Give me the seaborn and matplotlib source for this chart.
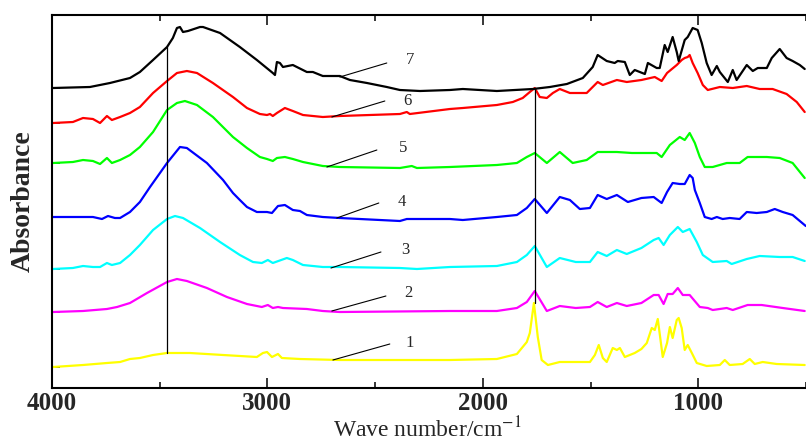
"""Stacked FTIR spectra (samples 1-7) with offset baselines and leader-line labels."""

import matplotlib

matplotlib.use("Agg")
import matplotlib.pyplot as plt  # noqa: E402
import seaborn as sns  # noqa: E402

# ---- data (wavenumber in cm^-1, absorbance in a.u., offset stack) ----
WN_7 = [3995, 3824, 3731, 3638, 3592, 3531, 3466, 3439, 3420, 3406, 3392, 3369, 3313, 3299, 3220,
        3128, 3049, 2975, 2965, 2956, 2942, 2928, 2882, 2817, 2789, 2743, 2664, 2617, 2538, 2446,
        2385, 2292, 2153, 2093, 1935, 1768, 1689, 1610, 1536, 1490, 1467, 1425, 1388, 1374, 1341,
        1318, 1295, 1248, 1234, 1193, 1179, 1156, 1142, 1119, 1100, 1091, 1063, 1049, 1026, 1003,
        984, 961, 938, 914, 900, 863, 840, 822, 775, 747, 724, 682, 659, 622, 590, 562, 529, 506]
ABS_7 = [3.00, 3.01, 3.05, 3.10, 3.16, 3.28, 3.41, 3.50, 3.60, 3.61, 3.56, 3.57, 3.61, 3.61, 3.55,
         3.41, 3.28, 3.15, 3.13, 3.26, 3.25, 3.21, 3.23, 3.16, 3.16, 3.12, 3.12, 3.08, 3.05, 3.01,
         2.98, 2.97, 2.98, 2.99, 2.97, 2.99, 3.01, 3.04, 3.10, 3.21, 3.33, 3.27, 3.25, 3.27, 3.26,
         3.13, 3.18, 3.14, 3.25, 3.20, 3.20, 3.43, 3.36, 3.51, 3.36, 3.27, 3.48, 3.51, 3.60, 3.58,
         3.45, 3.25, 3.13, 3.22, 3.16, 3.06, 3.18, 3.08, 3.23, 3.17, 3.20, 3.20, 3.30, 3.39, 3.30,
         3.27, 3.23, 3.19]

WN_6 = [3995, 3903, 3856, 3810, 3777, 3745, 3722, 3684, 3638, 3592, 3531, 3466, 3420, 3374, 3327,
        3253, 3160, 3095, 3035, 3002, 2988, 2975, 2956, 2919, 2882, 2835, 2743, 2664, 2385, 2353,
        2339, 2153, 2093, 1935, 1861, 1815, 1782, 1759, 1736, 1703, 1675, 1643, 1596, 1518, 1467,
        1443, 1378, 1332, 1264, 1202, 1170, 1145, 1100, 1077, 1063, 1049, 1040, 1026, 1003, 979,
        956, 900, 840, 775, 715, 655, 590, 543, 506]
ABS_6 = [2.65, 2.66, 2.70, 2.69, 2.65, 2.72, 2.68, 2.71, 2.75, 2.81, 2.95, 3.07, 3.15, 3.17, 3.15,
         3.05, 2.91, 2.80, 2.74, 2.73, 2.74, 2.72, 2.75, 2.80, 2.77, 2.73, 2.71, 2.72, 2.74, 2.76,
         2.74, 2.79, 2.80, 2.83, 2.86, 2.90, 2.96, 3.00, 2.91, 2.90, 2.95, 2.99, 2.95, 2.95, 3.06,
         3.03, 3.08, 3.06, 3.08, 3.11, 3.07, 3.15, 3.23, 3.28, 3.30, 3.31, 3.33, 3.25, 3.15, 3.03,
         2.98, 3.01, 3.00, 3.02, 2.99, 2.99, 2.94, 2.86, 2.76]

WN_5 = [3995, 3903, 3856, 3810, 3777, 3745, 3722, 3684, 3638, 3592, 3531, 3466, 3420, 3383, 3327,
        3253, 3160, 3095, 3035, 3002, 2975, 2956, 2919, 2882, 2835, 2743, 2664, 2385, 2330, 2306,
        2153, 1935, 1842, 1796, 1759, 1703, 1643, 1583, 1518, 1467, 1378, 1308, 1193, 1170, 1132,
        1086, 1063, 1040, 1016, 993, 970, 933, 868, 808, 771, 682, 622, 562, 506]
ABS_5 = [2.25, 2.26, 2.28, 2.27, 2.24, 2.30, 2.25, 2.28, 2.33, 2.41, 2.56, 2.78, 2.85, 2.87, 2.83,
         2.71, 2.51, 2.40, 2.31, 2.29, 2.27, 2.30, 2.31, 2.29, 2.26, 2.22, 2.21, 2.20, 2.22, 2.20,
         2.21, 2.23, 2.25, 2.31, 2.35, 2.25, 2.36, 2.25, 2.28, 2.36, 2.36, 2.35, 2.35, 2.31, 2.43,
         2.51, 2.48, 2.55, 2.45, 2.31, 2.21, 2.21, 2.25, 2.25, 2.31, 2.31, 2.30, 2.25, 2.10]

WN_4 = [3995, 3903, 3810, 3768, 3740, 3708, 3684, 3638, 3592, 3545, 3466, 3406, 3374, 3281, 3206,
        3160, 3128, 3095, 3049, 3002, 2979, 2951, 2919, 2882, 2849, 2817, 2743, 2664, 2385, 2353,
        2153, 2093, 1935, 1842, 1796, 1759, 1703, 1643, 1596, 1550, 1503, 1467, 1425, 1378, 1327,
        1264, 1207, 1170, 1145, 1119, 1086, 1063, 1040, 1026, 1016, 993, 970, 938, 914, 887,
        854, 808, 775, 729, 682, 645, 608, 562, 501]
ABS_4 = [1.71, 1.71, 1.71, 1.69, 1.72, 1.70, 1.70, 1.76, 1.86, 2.01, 2.25, 2.41, 2.40, 2.25, 2.08,
         1.95, 1.88, 1.81, 1.76, 1.76, 1.75, 1.82, 1.83, 1.78, 1.77, 1.73, 1.71, 1.70, 1.67, 1.69,
         1.69, 1.68, 1.71, 1.73, 1.80, 1.89, 1.75, 1.91, 1.88, 1.79, 1.80, 1.93, 1.89, 1.93, 1.86,
         1.90, 1.91, 1.85, 1.96, 2.05, 2.04, 2.04, 2.13, 2.10, 1.98, 1.85, 1.71, 1.69, 1.71, 1.69,
         1.70, 1.69, 1.76, 1.75, 1.76, 1.79, 1.76, 1.73, 1.62]

WN_3 = [3995, 3903, 3856, 3810, 3777, 3745, 3722, 3684, 3638, 3592, 3531, 3466, 3429, 3392, 3313,
        3220, 3128, 3067, 3026, 2998, 2975, 2910, 2882, 2835, 2743, 2664, 2385, 2306, 2153, 1935,
        1842, 1796, 1759, 1703, 1643, 1569, 1503, 1467, 1425, 1378, 1332, 1264, 1207, 1184, 1161,
        1132, 1095, 1072, 1040, 1007, 979, 933, 868, 845, 775, 715, 622, 562, 506]
ABS_3 = [1.19, 1.20, 1.22, 1.21, 1.21, 1.25, 1.23, 1.25, 1.33, 1.43, 1.58, 1.69, 1.72, 1.70, 1.60,
         1.46, 1.33, 1.26, 1.25, 1.28, 1.25, 1.30, 1.28, 1.23, 1.21, 1.21, 1.20, 1.19, 1.21, 1.22,
         1.26, 1.33, 1.42, 1.21, 1.30, 1.26, 1.26, 1.36, 1.32, 1.38, 1.34, 1.40, 1.48, 1.50, 1.43,
         1.53, 1.61, 1.56, 1.59, 1.46, 1.33, 1.26, 1.27, 1.24, 1.29, 1.32, 1.31, 1.31, 1.27]

WN_2 = [3995, 3856, 3745, 3698, 3638, 3559, 3466, 3420, 3374, 3281, 3188, 3095, 3026, 2998, 2975,
        2951, 2928, 2817, 2743, 2664, 2153, 1935, 1842, 1796, 1759, 1703, 1643, 1569, 1503, 1467,
        1425, 1378, 1332, 1264, 1207, 1184, 1161, 1142, 1119, 1095, 1072, 1040, 993, 956, 933,
        868, 840, 771, 706, 608, 506]
ABS_2 = [0.76, 0.77, 0.79, 0.81, 0.85, 0.95, 1.06, 1.09, 1.07, 1.00, 0.91, 0.84, 0.81, 0.83, 0.80,
         0.81, 0.80, 0.79, 0.77, 0.76, 0.77, 0.77, 0.80, 0.86, 0.97, 0.77, 0.82, 0.80, 0.81, 0.86,
         0.81, 0.85, 0.82, 0.85, 0.93, 0.93, 0.84, 0.94, 0.94, 1.00, 0.93, 0.93, 0.81, 0.80, 0.78,
         0.80, 0.78, 0.83, 0.83, 0.80, 0.77]

WN_1 = [3995, 3856, 3745, 3684, 3638, 3592, 3531, 3466, 3360, 3206, 3049, 3021, 3002, 2979, 2951,
        2933, 2849, 2664, 2153, 1935, 1842, 1796, 1782, 1763, 1745, 1727, 1698, 1643, 1503, 1480,
        1462, 1443, 1425, 1397, 1378, 1364, 1341, 1295, 1264, 1239, 1216, 1202, 1188, 1165, 1145,
        1132, 1119, 1100, 1091, 1077, 1063, 1049, 1030, 1007, 961, 900, 877, 854, 794, 761,
        738, 701, 636, 506]
ABS_1 = [0.21, 0.23, 0.25, 0.26, 0.29, 0.30, 0.33, 0.35, 0.35, 0.33, 0.31, 0.35, 0.36, 0.31, 0.34,
         0.30, 0.29, 0.28, 0.28, 0.29, 0.34, 0.46, 0.55, 0.85, 0.51, 0.28, 0.23, 0.26, 0.26, 0.33,
         0.43, 0.30, 0.26, 0.40, 0.38, 0.40, 0.31, 0.35, 0.39, 0.45, 0.60, 0.58, 0.69, 0.31, 0.45,
         0.61, 0.50, 0.68, 0.70, 0.60, 0.38, 0.43, 0.35, 0.25, 0.22, 0.23, 0.28, 0.23, 0.24, 0.29,
         0.24, 0.26, 0.24, 0.23]

SAMPLES = ["1", "2", "3", "4", "5", "6", "7"]
COLORS = ["#ffff00", "#ff00ff", "#00ffff", "#0000ff", "#00ff00", "#ff0000", "#000000"]
SPECTRA = [(WN_1, ABS_1), (WN_2, ABS_2), (WN_3, ABS_3), (WN_4, ABS_4),
           (WN_5, ABS_5), (WN_6, ABS_6), (WN_7, ABS_7)]

# leader line (from curve -> to label) and label anchor, per sample
LEADER_FROM = [(2696, 0.28), (2701, 0.77), (2705, 1.20), (2678, 1.70), (2724, 2.21), (2701, 2.71), (2664, 3.11)]
LEADER_TO = [(2432, 0.44), (2450, 0.92), (2473, 1.36), (2483, 1.85), (2492, 2.38), (2455, 2.87), (2446, 3.25)]
LABEL_POS = [(2339, 0.45), (2348, 0.95), (2362, 1.38), (2376, 1.86), (2371, 2.40), (2348, 2.87), (2339, 3.28)]

# reference bands marked with vertical lines: (wavenumber, bottom, top)
MARKERS = [(3466, 0.35, 3.41), (1759, 0.85, 2.99)]


def main() -> None:
    sns.set_theme(style="ticks")
    plt.rcParams["font.family"] = ["Liberation Serif", "DejaVu Serif"]
    plt.rcParams["mathtext.fontset"] = "stix"

    fig = plt.figure(figsize=(8.06, 4.43), dpi=100)
    ax = fig.add_axes([52 / 806, 1 - 388 / 443, 1 - 52 / 806, (388 - 15) / 443])

    for (wn, ab), color in zip(SPECTRA, COLORS):
        sns.lineplot(x=wn, y=ab, color=color, linewidth=1.6, ax=ax, legend=False)

    for wn, lo, hi in MARKERS:
        ax.plot([wn, wn], [lo, hi], color="black", linewidth=0.9)

    for name, (x0, y0), (x1, y1), (tx, ty) in zip(SAMPLES, LEADER_FROM, LEADER_TO, LABEL_POS):
        ax.plot([x0, x1], [y0, y1], color="black", linewidth=0.8)
        ax.text(tx, ty, name, fontsize=12, ha="center", va="center")

    ax.set_xlim(4000, 500)
    ax.set_ylim(0, 3.73)
    ax.set_xticks([4000, 3000, 2000, 1000])
    ax.set_xticks([3500, 2500, 1500, 500], minor=True)
    ax.set_xticklabels(["4000", "3000", "2000", "1000"], fontsize=18, fontweight="bold")
    ax.tick_params(axis="x", which="both", direction="in", top=True, width=1.3)
    ax.tick_params(axis="x", which="major", length=7, pad=3)
    ax.tick_params(axis="x", which="minor", length=4)

    # colored in-ticks mark each spectrum's baseline
    starts = [ab[0] for _, ab in SPECTRA]
    ax.set_yticks(starts)
    ax.set_yticklabels([])
    ax.tick_params(axis="y", direction="in", length=6, width=1.3)
    for tick, color in zip(ax.yaxis.get_major_ticks(), COLORS):
        tick.tick1line.set_color(color)

    for side in ("left", "bottom", "top"):
        ax.spines[side].set_linewidth(1.5)
        ax.spines[side].set_color("black")
    ax.spines["right"].set_visible(False)

    # x label sits tight under the tick labels, as in the reference
    fig.text(427 / 806, 1 / 443, "Wave number/cm$^{-1}$", fontsize=17,
             ha="center", va="bottom")
    ax.set_ylabel("Absorbance", fontsize=20, fontweight="bold", labelpad=8)

    fig.savefig("out.png", dpi=100)
    plt.close(fig)


if __name__ == "__main__":
    main()
